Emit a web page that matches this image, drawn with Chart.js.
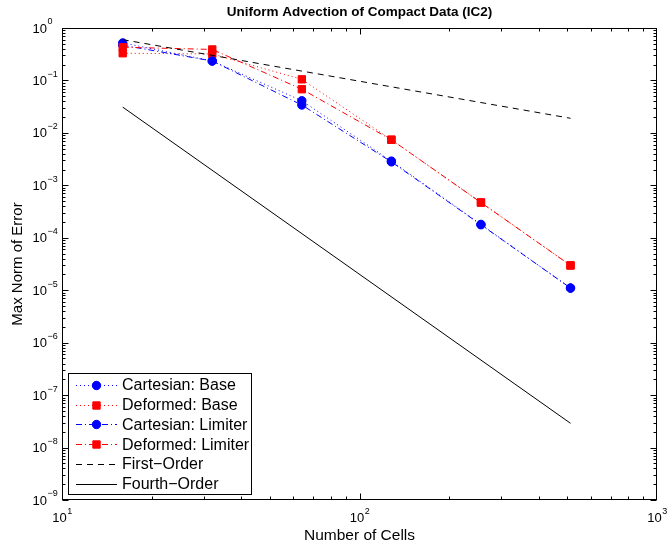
<!DOCTYPE html>
<html><head><meta charset="utf-8">
<script src="https://cdn.jsdelivr.net/npm/chart.js@4/dist/chart.umd.min.js"></script>
<style>html,body{margin:0;padding:0;background:#fff}#wrap{width:670px;height:548px;position:relative}</style>
</head><body><div id="wrap"><canvas id="c" width="670" height="548"></canvas></div>
<script>
// ---- data ----
const cells = [16, 32, 64, 128, 256, 512];
const cartesianBase    = [0.52, 0.235, 0.041, 0.0029, 1.8e-4, 1.1e-5];
const deformedBase     = [0.33, 0.32, 0.105, 0.0074, 4.7e-4, 2.97e-5];
const cartesianLimiter = [0.47, 0.235, 0.034, 0.0028, 1.77e-4, 1.1e-5];
const deformedLimiter  = [0.43, 0.39, 0.068, 0.0074, 4.7e-4, 2.97e-5];
const refCells    = [16, 512];
const firstOrder  = [0.6, 0.019];
const fourthOrder = [0.031, 2.9e-8];
const xTickExps = [1, 2, 3];
const yTickExps = [0, -1, -2, -3, -4, -5, -6, -7, -8, -9];
const seriesLabels = ['Cartesian: Base', 'Deformed: Base', 'Cartesian: Limiter', 'Deformed: Limiter', 'First\u2212Order', 'Fourth\u2212Order'];

const FONT = '"Liberation Sans", Arial, Helvetica, sans-serif';
Chart.defaults.font.family = FONT;
const BLUE = '#0000ff', RED = '#ff0000', BLACK = '#000000';
const DOT = [1, 3], DASHDOT = [6, 3, 1, 3], DASH = [6, 5];

function pts(xs, ys) { return xs.map((v, i) => ({x: v, y: ys[i]})); }

const styles = [
  {color: BLUE, dash: DOT, marker: 'circle'},
  {color: RED, dash: DOT, marker: 'rect'},
  {color: BLUE, dash: DASHDOT, marker: 'circle'},
  {color: RED, dash: DASHDOT, marker: 'rect'},
  {color: BLACK, dash: DASH, marker: null},
  {color: BLACK, dash: [], marker: null}
];
const dataArrays = [
  pts(cells, cartesianBase), pts(cells, deformedBase),
  pts(cells, cartesianLimiter), pts(cells, deformedLimiter),
  pts(refCells, firstOrder), pts(refCells, fourthOrder)
];

const datasets = dataArrays.map((d, i) => {
  const s = styles[i];
  return {
    label: seriesLabels[i],
    data: d,
    borderColor: s.color,
    backgroundColor: s.color,
    borderWidth: 1,
    borderDash: s.dash,
    pointStyle: s.marker || 'circle',
    pointRadius: s.marker === 'rect' ? 5.2 : (s.marker ? 4.2 : 0),
    pointBorderWidth: 1,
    pointBorderColor: s.color,
    pointBackgroundColor: s.color,
    tension: 0,
    order: dataArrays.length - i,
    clip: false
  };
});

function drawMarker(ctx, style, r, x, y, color) {
  ctx.save();
  ctx.setLineDash([]);
  ctx.fillStyle = color; ctx.strokeStyle = color; ctx.lineWidth = 1;
  ctx.beginPath();
  if (style === 'circle') ctx.arc(x, y, r, 0, Math.PI * 2);
  else { const s = Math.SQRT1_2 * r; ctx.rect(x - s, y - s, 2 * s, 2 * s); }
  ctx.fill(); ctx.stroke();
  ctx.restore();
}

const matlabPlugin = {
  id: 'matlabAxes',
  afterDraw(chart) {
    const {ctx, chartArea: a, scales: {x, y}} = chart;
    ctx.save();
    const L = Math.round(a.left) + 0.5, R = Math.round(a.right) - 0.5;
    const T = Math.round(a.top) + 0.5, B = Math.round(a.bottom) - 0.5;
    ctx.strokeStyle = BLACK; ctx.lineWidth = 1; ctx.setLineDash([]);
    // ticks
    ctx.beginPath();
    for (let e = xTickExps[0]; e < xTickExps[xTickExps.length - 1]; e++) {
      for (let m = 1; m <= 9; m++) {
        const px = Math.round(x.getPixelForValue(m * Math.pow(10, e))) + 0.5;
        const len = m === 1 ? 6 : 3;
        ctx.moveTo(px, B); ctx.lineTo(px, B - len);
        ctx.moveTo(px, T); ctx.lineTo(px, T + len);
      }
    }
    for (let e = yTickExps[yTickExps.length - 1]; e < yTickExps[0]; e++) {
      for (let m = 1; m <= 9; m++) {
        const py = Math.round(y.getPixelForValue(m * Math.pow(10, e))) + 0.5;
        const len = m === 1 ? 6 : 3;
        ctx.moveTo(L, py); ctx.lineTo(L + len, py);
        ctx.moveTo(R, py); ctx.lineTo(R - len, py);
      }
    }
    ctx.stroke();
    // box
    ctx.strokeRect(L, T, R - L, B - T);

    // tick labels
    ctx.fillStyle = BLACK;
    const baseFont = '13px ' + FONT, expFont = '9px ' + FONT;
    ctx.textBaseline = 'middle';
    yTickExps.forEach(e => {
      const py = y.getPixelForValue(Math.pow(10, e));
      ctx.font = baseFont; ctx.textAlign = 'right';
      ctx.fillText('10', 47, py + 1);
      ctx.font = expFont; ctx.textAlign = 'left';
      ctx.fillText(String(e).replace('-', '\u2212'), 47.5, py - 6);
    });
    xTickExps.forEach(e => {
      const px = x.getPixelForValue(Math.pow(10, e));
      ctx.font = baseFont; const w1 = ctx.measureText('10').width;
      ctx.font = expFont; const es = String(e); const w2 = ctx.measureText(es).width;
      const start = px - (w1 + w2) / 2;
      ctx.font = baseFont; ctx.textAlign = 'left';
      ctx.fillText('10', start, 518);
      ctx.font = expFont;
      ctx.fillText(es, start + w1 + 0.5, 512);
    });

    // title
    ctx.font = 'bold 13.5px ' + FONT; ctx.textAlign = 'center';
    ctx.fillText('Uniform Advection of Compact Data (IC2)', (a.left + a.right) / 2, 12);

    // legend
    const lx = 68.5, ly = 373.5, lw = 183, lh = 121;
    ctx.fillStyle = '#ffffff'; ctx.fillRect(lx, ly, lw, lh);
    ctx.strokeStyle = BLACK; ctx.strokeRect(lx, ly, lw, lh);
    chart.data.datasets.forEach((ds, i) => {
      const cy = 385 + i * 19.7;
      const st = styles[i];
      ctx.save();
      ctx.strokeStyle = st.color; ctx.lineWidth = 1; ctx.setLineDash(st.dash);
      ctx.beginPath(); ctx.moveTo(76, Math.round(cy) + 0.5); ctx.lineTo(117, Math.round(cy) + 0.5); ctx.stroke();
      ctx.restore();
      if (st.marker) drawMarker(ctx, st.marker, ds.pointRadius, 96.5, Math.round(cy) + 0.5, st.color);
      ctx.fillStyle = BLACK; ctx.font = '16px ' + FONT; ctx.textAlign = 'left'; ctx.textBaseline = 'middle';
      ctx.fillText(ds.label, 122, cy + 1);
    });
    ctx.restore();
  }
};

new Chart(document.getElementById('c'), {
  type: 'line',
  data: {datasets},
  options: {
    responsive: false,
    animation: false,
    devicePixelRatio: 1,
    layout: {padding: {top: 28, right: 13, left: 0, bottom: 0}},
    plugins: {legend: {display: false}, tooltip: {enabled: false}, title: {display: false}},
    scales: {
      x: {
        type: 'logarithmic', min: 10, max: 1000,
        grid: {display: false}, border: {display: false},
        ticks: {display: false},
        title: {display: true, text: 'Number of Cells', color: BLACK, font: {size: 15.5, family: FONT}, padding: {top: 0, bottom: 3}},
        afterFit: s => { s.height = 48; }
      },
      y: {
        type: 'logarithmic', min: 1e-9, max: 1,
        grid: {display: false}, border: {display: false},
        ticks: {display: false},
        title: {display: true, text: 'Max Norm of Error', color: BLACK, font: {size: 15, family: FONT}, padding: {top: 9, bottom: 0}},
        afterFit: s => { s.width = 62; }
      }
    }
  },
  plugins: [matlabPlugin]
});
</script></body></html>
